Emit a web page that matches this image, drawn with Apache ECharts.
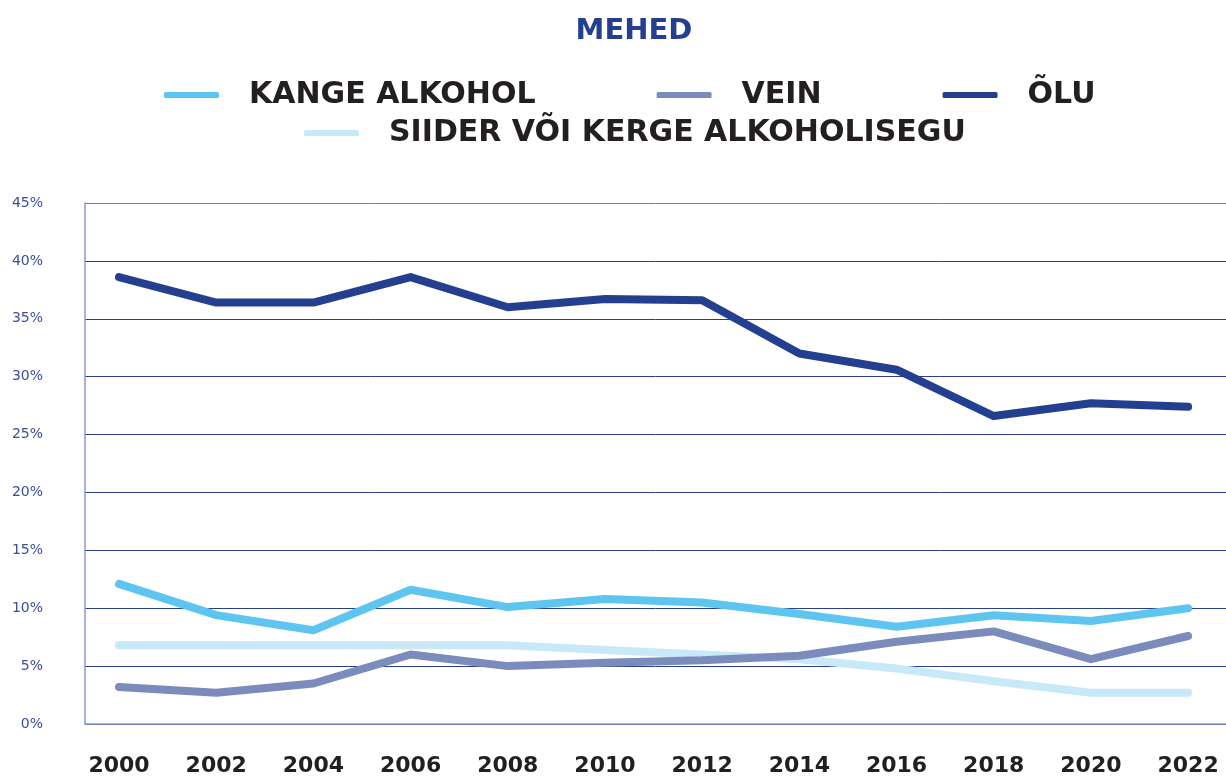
<!DOCTYPE html>
<html>
<head>
<meta charset="utf-8">
<script src="https://cdn.jsdelivr.net/npm/echarts@6/dist/echarts.min.js"></script>
<style>
  html, body { margin: 0; padding: 0; background: #fff; }
  #chart { width: 1226px; height: 778px; }
</style>
</head>
<body>
<div id="chart"></div>
<script>
// data
const years = [2000, 2002, 2004, 2006, 2008, 2010, 2012, 2014, 2016, 2018, 2020, 2022];
const kangeAlkohol = [12.1, 9.4, 8.1, 11.6, 10.1, 10.8, 10.5, 9.5, 8.4, 9.4, 8.9, 10.0];
const vein = [3.2, 2.7, 3.5, 6.0, 5.0, 5.3, 5.5, 5.9, 7.1, 8.0, 5.6, 7.6];
const olu = [38.6, 36.4, 36.4, 38.6, 36.0, 36.7, 36.6, 32.0, 30.6, 26.6, 27.7, 27.4];
const siider = [6.8, 6.8, 6.8, 6.8, 6.8, 6.4, 6.0, 5.6, 4.8, 3.7, 2.7, 2.7];
const yTicks = [0, 5, 10, 15, 20, 25, 30, 35, 40, 45];

const names = ["KANGE ALKOHOL", "VEIN", "ÕLU", "SIIDER VÕI KERGE ALKOHOLISEGU"];
const colors = ["#5ec5f1", "#7b8bbc", "#243f8f", "#c9e8f8"];

function pairs(values) {
  return years.map((y, i) => [y, values[i]]);
}

function makeSeries(name, values, color, z) {
  return {
    name: name,
    type: "line",
    data: pairs(values),
    symbol: "none",
    z: z,
    lineStyle: { color: color, width: 8, cap: "round", join: "round" },
    itemStyle: { color: color },
  };
}

const legendText = {
  color: "#231f20",
  fontFamily: "DejaVu Sans",
  fontWeight: "bold",
  fontSize: 30,
  padding: [0, 0, 0, 25],
};

const chart = echarts.init(document.getElementById("chart"));
chart.setOption({
  animation: false,
  title: {
    text: "MEHED",
    left: 629,
    textAlign: "center",
    top: 12,
    textStyle: {
      color: "#243f8f",
      fontFamily: "DejaVu Sans",
      fontWeight: "bold",
      fontSize: 29,
    },
  },
  legend: [
    {
      data: names.slice(0, 3),
      left: 159,
      top: 75,
      icon: "roundRect",
      itemWidth: 55,
      itemHeight: 6,
      itemGap: 121,
      textStyle: legendText,
    },
    {
      data: names.slice(3),
      left: 299,
      top: 113,
      icon: "roundRect",
      itemWidth: 55,
      itemHeight: 6,
      textStyle: legendText,
    },
  ],
  grid: { left: 85, right: 0, top: 203, bottom: 54, containLabel: false },
  xAxis: {
    type: "value",
    min: 1999.3,
    max: 2022.78,
    splitLine: { show: false },
    axisTick: { show: false },
    axisLine: { show: true, lineStyle: { color: "#8a9ad0", width: 1.5 } },
    axisLabel: {
      customValues: years,
      formatter: (v) => String(v),
      margin: 31,
      color: "#231f20",
      fontFamily: "DejaVu Sans",
      fontWeight: "bold",
      fontSize: 22,
    },
  },
  yAxis: {
    type: "value",
    min: 0,
    max: 45,
    interval: 5,
    axisLine: { show: true, lineStyle: { color: "#8a9ad0", width: 1.5 } },
    axisTick: { show: false },
    axisLabel: {
      formatter: "{value}%",
      margin: 42,
      color: "#3d4c9e",
      fontFamily: "DejaVu Sans",
      fontSize: 14,
    },
    splitLine: {
      lineStyle: {
        width: 1,
        color: yTicks.map((t) => (t === 45 ? "#6a7fb8" : "#2a3f8c")),
      },
    },
  },
  series: [
    makeSeries(names[3], siider, colors[3], 1),
    makeSeries(names[1], vein, colors[1], 2),
    makeSeries(names[0], kangeAlkohol, colors[0], 3),
    makeSeries(names[2], olu, colors[2], 4),
  ],
});
</script>
</body>
</html>
